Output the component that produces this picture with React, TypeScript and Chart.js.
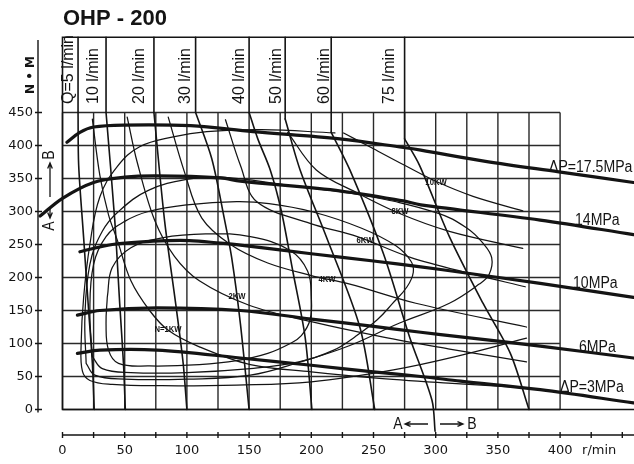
import { useEffect, useRef } from "react";
import { Chart, registerables } from "chart.js";

Chart.register(...registerables);

type Pt = [number, number]; // [r/min, N·m]

// ---- pressure-drop curves (thick) ----
const pressure175: Pt[] = [[3.6, 405], [14, 420], [25, 428], [49, 431], [103, 430], [153, 421], [223, 410], [274, 397], [288, 393], [340, 376], [399, 360], [459, 344]];
const pressure14: Pt[] = [[-18, 293], [0, 320], [25, 344], [50, 352], [76, 354], [127, 351], [143, 346], [224, 331], [274, 316], [288, 310], [384, 287], [459, 265]];
const pressure10: Pt[] = [[14, 239], [40, 250], [73, 255], [102, 256], [127, 252], [143, 249], [200, 236], [250, 225], [288, 216], [320, 208], [384, 191], [459, 170]];
const pressure6: Pt[] = [[12, 143], [30, 150], [76, 154], [143, 150], [200, 137], [250, 126], [288, 117], [320, 110], [384, 96], [459, 78]];
const pressure3: Pt[] = [[12, 85], [30, 90], [76, 90], [143, 78], [200, 67], [250, 57], [288, 50], [320, 43], [384, 30], [459, 10]];

// ---- flow lines (Q, l/min); first point is the top of the caption strip ----
const flow5: Pt[] = [[12.5, 564], [12.5, 450], [13, 370], [17, 260], [21, 150], [24, 70], [25.5, 0]];
const flow10: Pt[] = [[35, 564], [35, 450], [42, 287], [46, 160], [49, 70], [50.5, 0]];
const flow20: Pt[] = [[73.5, 564], [73.5, 450], [82, 287], [91, 160], [97, 70], [100, 0]];
const flow30: Pt[] = [[107, 564], [107, 450], [120, 380], [130, 290], [136, 230], [143, 130], [150, 0]];
const flow40: Pt[] = [[150, 564], [150, 450], [157, 410], [167, 363], [176, 300], [185, 211], [195, 110], [200.5, 0]];
const flow50: Pt[] = [[179, 564], [179, 440], [191, 363], [212, 262], [239, 125], [251, 0]];
const flow60: Pt[] = [[216, 564], [216, 420], [231, 363], [258, 236], [279, 110], [297, 14], [299.5, -33]];
const flow75: Pt[] = [[275, 564], [275, 410], [287, 370], [311, 262], [338, 161], [360, 85], [375, 0]];

// ---- output power lines ----
const power1: Pt[] = [[24, 440], [30, 355], [37, 295], [44, 257], [55, 195], [70, 150], [85, 120], [110, 95], [151, 68], [200, 57], [250, 48], [310, 40], [370, 33]];
const power2: Pt[] = [[52, 443], [60, 375], [74, 287], [90, 232], [110, 195], [150, 158], [200, 133], [257, 110], [310, 92], [373, 72]];
const power4: Pt[] = [[85, 443], [98, 360], [112, 290], [135, 250], [165, 222], [200, 203], [231, 190], [284, 161], [373, 125]];
const power6: Pt[] = [[131, 439], [143, 370], [156, 315], [199, 282], [237, 262], [279, 231], [330, 205], [372, 186]];
const power8: Pt[] = [[181, 420], [204, 363], [236, 329], [271, 297], [311, 270], [370, 244]];
const power10: Pt[] = [[226, 419], [250, 395], [275, 370], [301, 345], [330, 323], [370, 301]];

// ---- efficiency contours ----
const contourA: Pt[] = [[36, 170], [40, 215], [55, 245], [80, 260], [115, 266], [151, 262], [183, 241], [197, 210], [200, 170], [199, 136], [192, 112], [183, 100], [165, 85], [140, 74], [110, 68], [70, 66], [45, 70], [37, 90], [35, 130], [36, 170]];
const contourB: Pt[] = [[24, 80], [22, 150], [25, 220], [35, 262], [50, 285], [69, 300], [100, 310], [140, 315], [166, 312], [200, 300], [240, 275], [268, 248], [280, 225], [282, 208], [277, 186], [265, 160], [253, 136], [235, 110], [218, 90], [190, 72], [151, 62], [100, 56], [55, 56], [32, 62], [24, 80]];
const contourC: Pt[] = [[19, 70], [18, 140], [22, 220], [32, 270], [45, 300], [69, 332], [101, 349], [128, 352], [180, 340], [240, 325], [301, 298], [325, 275], [338, 252], [345, 230], [343, 205], [335, 190], [311, 161], [271, 131], [231, 97], [191, 72], [151, 52], [100, 46], [50, 46], [26, 52], [19, 70]];
const contourD: Pt[] = [[219, 419], [160, 424], [116, 421], [89, 413], [62, 398], [44, 368], [30, 322], [22, 250], [17, 170], [15, 100], [16, 58], [22, 44], [40, 38], [80, 36], [140, 37], [200, 42], [266, 60], [320, 82], [373, 108]];

// ---- axes / grid values ----
const GRID_RPM = [0, 25, 50, 75, 100, 125, 150, 175, 200, 225, 250, 275, 300, 325, 350, 375, 400];
const GRID_NM = [0, 50, 100, 150, 200, 250, 300, 350, 400, 450];
const X_TICKS = [0, 25, 50, 75, 100, 125, 150, 175, 200, 225, 250, 275, 300, 325, 350, 375, 400, 425, 450];
const X_LABELS = [0, 50, 100, 150, 200, 250, 300, 350, 400];
const Y_LABELS = [0, 50, 100, 150, 200, 250, 300, 350, 400, 450];
const HEADER_TOP = 564;

const FLOW_NAMES = ["Q=5 l/min", "10 l/min", "20 l/min", "30 l/min", "40 l/min", "50 l/min", "60 l/min", "75 l/min"];
const PRESSURE_NAMES = ["\u0394P=17.5MPa", "14MPa", "10MPa", "6MPa", "\u0394P=3MPa"];
const POWER_NAMES = ["N=1KW", "2KW", "4KW", "6KW", "8KW", "10KW"];

// text anchors (pixels)
const FLOW_LABEL_X = [68.5, 93.5, 140, 186, 240, 277, 325, 390];
const PRESSURE_LABEL_POS: Pt[] = [[549, 172], [575, 225], [573, 288], [579, 352], [560, 392]];
const POWER_LABEL_POS: Pt[] = [[168, 330], [237, 297], [327, 280], [365, 241], [400, 212], [436, 183]];

// page geometry: 1.244 px per r/min, 0.66 px per N·m
const W = 634;
const H = 464;
const RPM0_PX = 62.5;
const PX_PER_RPM = 1.244;
const NM0_PX = 409.5;
const PX_PER_NM = 0.66;

const INK = "#141414";

function curve(pts: Pt[], width: number, tension: number) {
  return {
    data: pts.map(([x, y]) => ({ x, y })),
    showLine: true,
    borderColor: INK,
    borderWidth: width,
    pointRadius: 0,
    tension,
    fill: false,
    borderCapStyle: "round",
    borderJoinStyle: "round",
  };
}

function narrowText(ctx: CanvasRenderingContext2D, text: string, x: number, y: number, font: string, align: CanvasTextAlign, sx: number) {
  ctx.save();
  ctx.translate(x, y);
  ctx.scale(sx, 1);
  ctx.font = font;
  ctx.textAlign = align;
  ctx.fillText(text, 0, 0);
  ctx.restore();
}

function arrow(ctx: CanvasRenderingContext2D, x1: number, y1: number, x2: number, y2: number) {
  const a = Math.atan2(y2 - y1, x2 - x1);
  const h = 6;
  ctx.beginPath();
  ctx.moveTo(x1, y1);
  ctx.lineTo(x2, y2);
  ctx.moveTo(x2 - h * Math.cos(a - 0.4), y2 - h * Math.sin(a - 0.4));
  ctx.lineTo(x2, y2);
  ctx.lineTo(x2 - h * Math.cos(a + 0.4), y2 - h * Math.sin(a + 0.4));
  ctx.stroke();
}

const diagramPlugin = {
  id: "diagram",
  beforeDatasetsDraw(chart: any) {
    const { ctx, scales } = chart;
    const X = (v: number) => scales.x.getPixelForValue(v);
    const Y = (v: number) => scales.y.getPixelForValue(v);
    ctx.save();
    ctx.fillStyle = "#fff";
    ctx.fillRect(0, 0, W, H);
    ctx.strokeStyle = "#2a2a2a";
    ctx.lineWidth = 1.4;
    ctx.beginPath();
    for (const r of GRID_RPM) {
      ctx.moveTo(X(r), Y(0));
      ctx.lineTo(X(r), Y(450));
    }
    for (const t of GRID_NM) {
      ctx.moveTo(X(0), Y(t));
      ctx.lineTo(X(400), Y(t));
    }
    ctx.stroke();
    // frame: left border, header top, extended baseline
    ctx.strokeStyle = INK;
    ctx.lineWidth = 1.6;
    ctx.beginPath();
    ctx.moveTo(W, Y(HEADER_TOP));
    ctx.lineTo(X(0), Y(HEADER_TOP));
    ctx.lineTo(X(0), Y(0));
    ctx.lineTo(W, Y(0));
    ctx.stroke();
    ctx.restore();
  },
  afterDatasetsDraw(chart: any) {
    const { ctx, scales } = chart;
    const X = (v: number) => scales.x.getPixelForValue(v);
    const Y = (v: number) => scales.y.getPixelForValue(v);
    ctx.save();
    ctx.fillStyle = INK;
    ctx.strokeStyle = INK;
    ctx.textBaseline = "alphabetic";

    // title
    ctx.font = "bold 22px 'Liberation Sans', Arial, sans-serif";
    ctx.textAlign = "left";
    ctx.fillText("OHP - 200", 63, 25);

    // vertical axis
    const axisX = 38;
    ctx.lineWidth = 1.4;
    ctx.beginPath();
    ctx.moveTo(axisX, 40);
    ctx.lineTo(axisX, Y(0) + 3);
    for (const t of Y_LABELS) {
      ctx.moveTo(axisX - 3, Y(t));
      ctx.lineTo(axisX + 4, Y(t));
    }
    ctx.stroke();
    ctx.font = "13px 'DejaVu Sans', sans-serif";
    ctx.textAlign = "right";
    ctx.textBaseline = "middle";
    for (const t of Y_LABELS) ctx.fillText(String(t), 33, Y(t));

    // axis name
    ctx.save();
    ctx.translate(31, 75);
    ctx.rotate(-Math.PI / 2);
    ctx.textAlign = "center";
    ctx.font = "bold 12px 'DejaVu Sans', sans-serif";
    ctx.fillText("N \u2022 M", 0, 0);
    ctx.restore();

    // horizontal axis
    const axisY = 435;
    ctx.beginPath();
    ctx.moveTo(X(0), axisY);
    ctx.lineTo(W, axisY);
    for (const r of X_TICKS) {
      ctx.moveTo(X(r), axisY - 3);
      ctx.lineTo(X(r), axisY + 3);
    }
    ctx.stroke();
    ctx.textAlign = "center";
    for (const r of X_LABELS) ctx.fillText(String(r), X(r), 451);
    ctx.textAlign = "left";
    ctx.fillText("r/min", X(400) + 22, 451);

    // flow captions in the header strip
    ctx.font = "16px 'Liberation Sans', Arial, sans-serif";
    FLOW_NAMES.forEach((name, i) => {
      ctx.save();
      ctx.translate(FLOW_LABEL_X[i], 104);
      ctx.rotate(-Math.PI / 2);
      ctx.textAlign = "left";
      ctx.textBaseline = "middle";
      ctx.fillText(name, 0, 0);
      ctx.restore();
    });

    // pressure captions
    ctx.textBaseline = "alphabetic";
    PRESSURE_NAMES.forEach((name, i) => {
      const [px, py] = PRESSURE_LABEL_POS[i];
      narrowText(ctx, name, px, py, "16px 'Liberation Sans', Arial, sans-serif", "left", 0.88);
    });

    // power captions
    ctx.textBaseline = "middle";
    POWER_NAMES.forEach((name, i) => {
      const [px, py] = POWER_LABEL_POS[i];
      narrowText(ctx, name, px, py, "bold 9px 'Liberation Sans', Arial, sans-serif", "center", 0.85);
    });

    // A <-> B markers
    ctx.lineWidth = 1.3;
    ctx.textBaseline = "middle";
    narrowText(ctx, "A", 398, 425, "16px 'Liberation Sans', Arial, sans-serif", "center", 0.88);
    narrowText(ctx, "B", 472, 425, "16px 'Liberation Sans', Arial, sans-serif", "center", 0.88);
    arrow(ctx, 428, 424, 405, 424);
    arrow(ctx, 440, 424, 463, 424);

    ctx.save();
    ctx.translate(50, 190);
    ctx.rotate(-Math.PI / 2);
    narrowText(ctx, "A", -36, 0, "16px 'Liberation Sans', Arial, sans-serif", "center", 0.88);
    narrowText(ctx, "B", 35, 0, "16px 'Liberation Sans', Arial, sans-serif", "center", 0.88);
    ctx.restore();
    arrow(ctx, 50, 207, 50, 218);
    arrow(ctx, 50, 197, 50, 163);

    ctx.restore();
  },
};

export default function App() {
  const ref = useRef<HTMLCanvasElement>(null);

  useEffect(() => {
    const thin = 1.25;
    const flowW = 1.6;
    const thick = 3.2;
    const flows = [flow5, flow10, flow20, flow30, flow40, flow50, flow60, flow75];
    const datasets: any[] = [
      ...[contourA, contourB, contourC, contourD].map((c) => curve(c, thin, 0.4)),
      ...[power1, power2, power4, power6, power8, power10].map((c) => curve(c, thin, 0.35)),
      // straight divider through the caption strip, then the curved flow line below it
      ...flows.map((c) => curve(c.slice(0, 2), flowW, 0)),
      ...flows.map((c) => curve(c.slice(1), flowW, 0.3)),
      ...[pressure175, pressure14, pressure10, pressure6, pressure3].map((c) => curve(c, thick, 0.35)),
    ];

    const chart = new Chart(ref.current as HTMLCanvasElement, {
      type: "scatter",
      data: { datasets },
      options: {
        responsive: false,
        devicePixelRatio: 1,
        animation: false,
        events: [],
        layout: { padding: 0 },
        plugins: { legend: { display: false }, tooltip: { enabled: false }, title: { display: false } },
        scales: {
          x: {
            type: "linear",
            display: false,
            min: -RPM0_PX / PX_PER_RPM,
            max: (W - RPM0_PX) / PX_PER_RPM,
          },
          y: {
            type: "linear",
            display: false,
            min: (NM0_PX - H) / PX_PER_NM,
            max: NM0_PX / PX_PER_NM,
          },
        },
      } as any,
      plugins: [diagramPlugin],
    });
    return () => chart.destroy();
  }, []);

  return (
    <div style={{ position: "fixed", left: 0, top: 0, width: W, height: H, background: "#fff" }}>
      <canvas ref={ref} width={W} height={H} style={{ display: "block", width: W, height: H }} />
    </div>
  );
}
